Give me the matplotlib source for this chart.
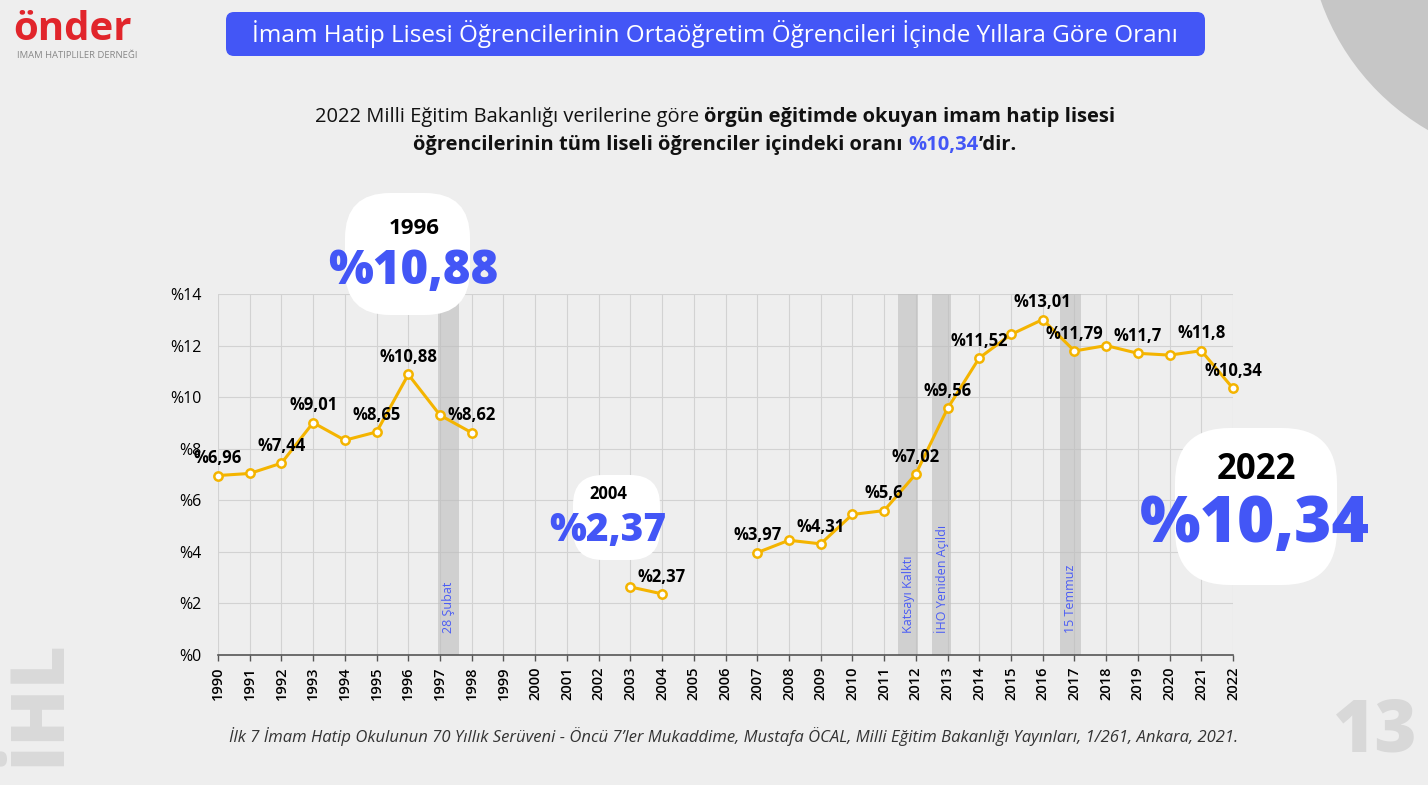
import matplotlib
matplotlib.use("Agg")
import matplotlib.pyplot as plt
from matplotlib.patches import FancyBboxPatch, Circle
import numpy as np

# veriler
years = list(range(1990, 2023))
oran = [6.96, 7.04, 7.44, 9.01, 8.33, 8.65, 10.88, 9.30, 8.62,
        np.nan, np.nan, np.nan, np.nan, 2.64, 2.37, np.nan, np.nan,
        3.97, 4.45, 4.31, 5.45, 5.6, 7.02, 9.56, 11.52, 12.43, 13.01,
        11.79, 12.0, 11.7, 11.63, 11.8, 10.34]
etiketli = [1990, 1992, 1993, 1995, 1996, 1998, 2004, 2007, 2009, 2011,
            2012, 2013, 2014, 2016, 2017, 2019, 2021, 2022]
yticks = [0, 2, 4, 6, 8, 10, 12, 14]
olaylar = [(1996.95, 1997.6, "28 Şubat"),
           (2011.45, 2012.07, "Katsayı Kalktı"),
           (2012.5, 2013.1, "İHO Yeniden Açıldı"),
           (2016.55, 2017.2, "15 Temmuz")]
vurgu_yil = ["1996", "2004", "2022"]
vurgu_deger = ["%10,88", "%2,37", "%10,34"]

baslik = "İmam Hatip Lisesi Öğrencilerinin Ortaöğretim Öğrencileri İçinde Yıllara Göre Oranı"
kaynak = ("İlk 7 İmam Hatip Okulunun 70 Yıllık Serüveni - Öncü 7’ler Mukaddime, "
          "Mustafa ÖCAL, Milli Eğitim Bakanlığı Yayınları, 1/261, Ankara, 2021.")

MAVI = "#4356f6"
SARI = "#f4b400"

plt.rcParams['font.family'] = ['Open Sans', 'DejaVu Sans']

W, H = 1428, 785
fig = plt.figure(figsize=(W / 100, H / 100), dpi=100)
fig.patch.set_facecolor("#eeeeee")


def fx(x):
    return x / W


def fy(y):
    return 1 - y / H


# arka plan katmani (piksel koordinatlari)
bg = fig.add_axes([0, 0, 1, 1], zorder=0)
bg.set_xlim(0, W)
bg.set_ylim(H, 0)
bg.axis("off")
bg.add_patch(Circle((1550, -80), 243, fc="#c6c6c6", ec="none"))
bg.add_patch(FancyBboxPatch((226, 12), 979, 44, boxstyle="round,pad=0,rounding_size=8",
                            fc=MAVI, ec="none"))
bg.text(715, 34, baslik, color="white", fontsize=17.5, ha="center", va="center")
bg.text(13, 40, "önder", color="#e1252b", fontsize=29, fontweight="bold", va="baseline")
bg.text(17, 56, "IMAM HATIPLILER DERNEĞI", color="#888888", fontsize=6.8, va="center")
bg.text(40, 702, "İHL", color="#d9d9d9", fontsize=54, fontweight="heavy", rotation=90,
        ha="center", va="center")
bg.text(1375, 733, "13", color="#d8d8d8", fontsize=52, fontweight="heavy",
        ha="center", va="center")
bg.text(734, 736, kaynak, fontsize=12, style="italic", color="#333333",
        ha="center", va="center")

# ana grafik
ax = fig.add_axes([fx(218), fy(655), (1233 - 218) / W, (655 - 294) / H], zorder=1)
ax.patch.set_alpha(0)
ax.set_xlim(1990, 2022)
ax.set_ylim(0, 14)
for s in ["top", "right", "left"]:
    ax.spines[s].set_visible(False)
ax.spines["bottom"].set_color("#555555")
ax.spines["bottom"].set_linewidth(1.2)
ax.set_xticks(years)
ax.set_xticklabels([str(y) for y in years], rotation=90, fontsize=10.5, fontweight="semibold")
ax.set_yticks(yticks)
ax.set_yticklabels(["%" + str(v) for v in yticks], fontsize=11.5)
ax.tick_params(axis="x", length=4, width=1, color="#555555", pad=4)
ax.tick_params(axis="y", length=0, pad=12)
ax.grid(True, color="#d2d2d2", lw=0.8)
ax.set_axisbelow(True)

for a, b, ad in olaylar:
    ax.axvspan(a, b, color="#bdbdbd", alpha=0.6, lw=0, zorder=1)
    ax.text((a + b) / 2, 0.85, ad, rotation=90, ha="center", va="bottom",
            fontsize=9, color="#4a5cf5", zorder=2)

ax.plot(years, oran, color=SARI, lw=2.2, marker="o", ms=6, mfc="white",
        mec=SARI, mew=1.8, clip_on=False, zorder=3)

for y in etiketli:
    v = oran[years.index(y)]
    ax.annotate("%" + f"{v:g}".replace(".", ","), (y, v), xytext=(0, 12.5),
                textcoords="offset points", ha="center", va="center",
                fontsize=12, fontweight="bold", zorder=4)

# vurgu baloncuklari
fg = fig.add_axes([0, 0, 1, 1], zorder=2)
fg.set_xlim(0, W)
fg.set_ylim(H, 0)
fg.axis("off")
fg.patch.set_alpha(0)

balon = [(345, 193, 125, 122, 45), (573, 475, 87, 85, 30), (1175, 428, 162, 157, 55)]
yil_yer = [(414, 228, 16), (608, 494, 12), (1256, 470, 25)]
deger_yer = [(413, 272, 34), (608, 530, 28), (1255, 525, 46)]
for i in range(3):
    x, y, w, h, r = balon[i]
    fg.add_patch(FancyBboxPatch((x, y), w, h, boxstyle=f"round,pad=0,rounding_size={r}",
                                fc="white", ec="none"))
    fg.text(yil_yer[i][0], yil_yer[i][1], vurgu_yil[i], fontsize=yil_yer[i][2],
            fontweight="bold", ha="center", va="center")
    fg.text(deger_yer[i][0], deger_yer[i][1], vurgu_deger[i], fontsize=deger_yer[i][2],
            fontweight="heavy", color=MAVI, ha="center", va="center")

# alt baslik (karisik stil)
renderer = fig.canvas.get_renderer()


def satir(parcalar, cx, cy, size, bosluk_sonra):
    # parcalar yan yana; bosluk_sonra: hangi parcadan sonra bosluk birakilacak
    bosluk = 0.28 * size * 100 / 72
    texts, widths = [], []
    for s, w, c in parcalar:
        t = fg.text(0, cy, s, fontsize=size, fontweight=w, color=c, ha="left", va="center")
        texts.append(t)
        widths.append(t.get_window_extent(renderer).width)
    x = cx - (sum(widths) + bosluk * len(bosluk_sonra)) / 2
    for i, (t, wd) in enumerate(zip(texts, widths)):
        t.set_x(x)
        x += wd + (bosluk if i in bosluk_sonra else 0)


satir([("2022 Milli Eğitim Bakanlığı verilerine göre", "normal", "#111111"),
       ("örgün eğitimde okuyan imam hatip lisesi", "bold", "#111111")],
      715, 117, 14.5, [0])
satir([("öğrencilerinin tüm liseli öğrenciler içindeki oranı", "bold", "#111111"),
       ("%10,34", "bold", MAVI),
       ("’dir.", "bold", "#111111")],
      715, 145, 14.5, [0])

fig.savefig("out.png", dpi=100, facecolor=fig.get_facecolor())
